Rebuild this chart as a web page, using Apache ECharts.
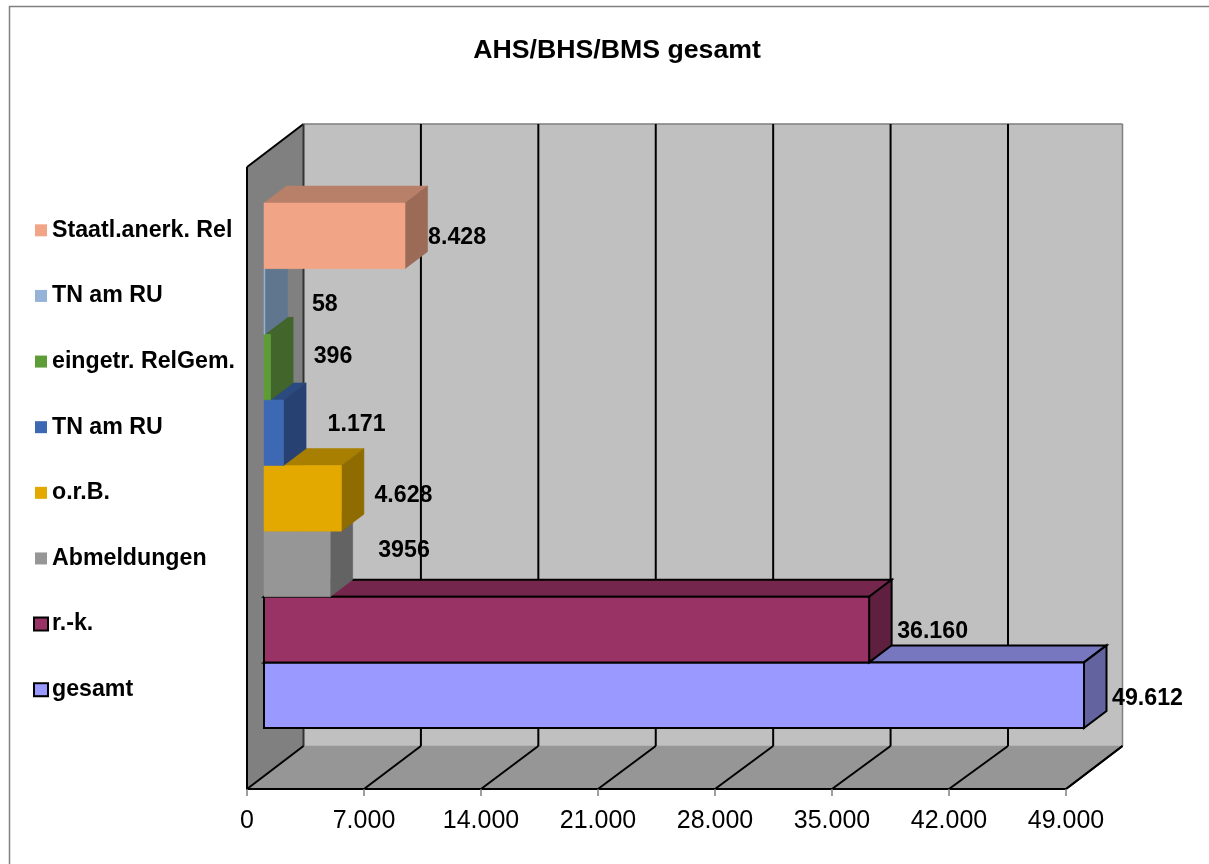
<!DOCTYPE html>
<html><head><meta charset="utf-8">
<style>html,body{margin:0;padding:0;background:#fff}#c{width:1209px;height:864px}</style>
<script src="https://cdn.jsdelivr.net/npm/echarts@6/dist/echarts.min.js"></script>
</head><body><div id="c"></div>
<script>
var categories = ['gesamt','r.-k.','Abmeldungen','o.r.B.','TN am RU','eingetr. RelGem.','TN am RU','Staatl.anerk. Rel'];
var values = [49612,36160,3956,4628,1171,396,58,8428];
var valueLabels = ['49.612','36.160','3956','4.628','1.171','396','58','8.428'];
var tickValues = [0,7000,14000,21000,28000,35000,42000,49000];
var frontColors = ['#9999FF','#993366','#969696','#E3A900','#3C68B4','#5E9C38','#95B3D7','#F2A586'];
var topColors = ['#7777BF','#75264D','#6E6E6E','#A87F00','#2B4A80','#41652B','#60768F','#B88068'];
var sideColors = ['#6363A0','#5F2040','#636363','#8F6C00','#274272','#41652B','#60768F','#9B6B57'];
var outlined = [true,true,false,false,false,false,false,false];
var labelOffsets = [[28,3],[28,2],[48,-13],[33,-3],[44,-8],[43,-10],[47,3],[23,2]];

var AXIS_MAX = 49000, WALL_DX = 56.5, WALL_DY = -43, BAR_DX = 22.5, BAR_DY = -17;
var FONT = '"Liberation Sans", Arial, sans-serif';

function poly(pts, fill, stroke, lw){
  return {type:'polygon', shape:{points:pts}, style:{fill:fill, stroke:stroke||fill, lineWidth:stroke?(lw||2):0.5}};
}
function line(a,b,color,lw){
  return {type:'line', shape:{x1:a[0],y1:a[1],x2:b[0],y2:b[1]}, style:{stroke:color,lineWidth:lw||1.5}};
}
function renderWalls(params, api){
  var o = api.coord([0,0]), e = api.coord([AXIS_MAX,0]), t = api.coord([0,1]);
  var dx = WALL_DX, dy = WALL_DY;
  return {type:'group', children:[
    poly([[o[0]+dx,t[1]+dy],[e[0]+dx,t[1]+dy],[e[0]+dx,o[1]+dy],[o[0]+dx,o[1]+dy]],'#C0C0C0'),
    poly([[o[0],o[1]],[e[0],o[1]],[e[0]+dx,o[1]+dy],[o[0]+dx,o[1]+dy]],'#969696'),
    poly([[o[0],t[1]],[o[0]+dx,t[1]+dy],[o[0]+dx,o[1]+dy],[o[0],o[1]]],'#808080'),
    line([o[0]+dx,t[1]+dy],[e[0]+dx,t[1]+dy],'#808080',1.5),
    line([e[0]+dx,t[1]+dy],[e[0]+dx,o[1]+dy],'#808080',1.5),
    line([o[0],t[1]],[o[0],o[1]],'#000',2),
    line([o[0],t[1]],[o[0]+dx,t[1]+dy],'#000',2),
    line([o[0]+dx,t[1]+dy],[o[0]+dx,o[1]+dy],'#333',2),
    line([e[0],o[1]],[e[0]+dx,o[1]+dy],'#000',2)
  ]};
}
function renderGrid(params, api){
  var v = api.value(0), p = api.coord([v,0]), t = api.coord([v,1]);
  var inner = v > 0 && v < AXIS_MAX;
  var dx = WALL_DX + (inner ? 2.5 * v / 42000 : 0);
  var kids = [line([p[0],p[1]],[p[0]+dx,p[1]+WALL_DY],'#000',2)];
  if (inner) kids.push(line([p[0]+dx,t[1]+WALL_DY],[p[0]+dx,p[1]+WALL_DY],'#000',2));
  return {type:'group', children:kids};
}
function renderBar(params, api){
  var i = api.value(0);
  var v = Math.min(api.value(1), AXIS_MAX);
  var c0 = api.coord([0,i]), c1 = api.coord([v,i]);
  var h = api.size([0,1])[1];
  var x0 = c0[0], x1 = c1[0], y0 = c0[1]-h/2, y1 = c0[1]+h/2;
  var s = outlined[i] ? '#000' : null;
  return {type:'group', children:[
    poly([[x0,y0],[x1,y0],[x1+BAR_DX,y0+BAR_DY],[x0+BAR_DX,y0+BAR_DY]],topColors[i],s),
    poly([[x1,y0],[x1+BAR_DX,y0+BAR_DY],[x1+BAR_DX,y1+BAR_DY],[x1,y1]],sideColors[i],s),
    poly([[x0,y0],[x1,y0],[x1,y1],[x0,y1]],frontColors[i],s)
  ]};
}
function renderLabel(params, api){
  var i = api.value(0);
  var v = Math.min(api.value(1), AXIS_MAX);
  var p = api.coord([v,i]);
  return {type:'text', x:p[0]+labelOffsets[i][0], y:p[1]+labelOffsets[i][1],
    style:{text:valueLabels[i], fill:'#000', font:'bold 23.2px '+FONT, textAlign:'left', textVerticalAlign:'middle'}};
}
var rich = {t:{fontFamily:FONT,fontWeight:'bold',fontSize:23.2,color:'#000',padding:[0,0,0,5]}};
frontColors.forEach(function(c,i){
  rich['m'+i] = {width:12,height:outlined[i]?11:12,backgroundColor:c,
    borderColor:outlined[i]?'#000':c,borderWidth:outlined[i]?2:0};
});
var barData = values.map(function(v,i){return [i,v];});

var chart = echarts.init(document.getElementById('c'),null,{renderer:'canvas'});
chart.setOption({
  animation:false,
  backgroundColor:'#fff',
  title:{text:'AHS/BHS/BMS gesamt',left:612,top:32,textAlign:'center',
    textStyle:{fontFamily:FONT,fontWeight:'bold',fontSize:26.7,color:'#000'}},
  graphic:[{type:'rect',z:-1,shape:{x:9.5,y:6.5,width:1300,height:900},style:{fill:'#fff',stroke:'#808080',lineWidth:1.5}}],
  grid:[
    {left:247,top:167,width:819,height:622},
    {left:264,top:203,width:820,height:525}
  ],
  xAxis:[
    {gridIndex:0,type:'value',min:0,max:AXIS_MAX,interval:7000,z:5,
     axisLine:{show:true,lineStyle:{color:'#000',width:2}},
     axisTick:{show:true,length:7,lineStyle:{color:'#808080',width:1.5}},
     splitLine:{show:false},
     axisLabel:{margin:20,fontFamily:FONT,fontSize:25,color:'#000',
       formatter:function(v){return v===0?'0':(v/1000)+'.000';}}},
    {gridIndex:1,type:'value',min:0,max:AXIS_MAX,interval:7000,show:false,splitLine:{show:false}}
  ],
  yAxis:[
    {gridIndex:0,type:'value',min:0,max:1,show:false,splitLine:{show:false}},
    {gridIndex:1,type:'category',data:categories,
     axisLine:{show:false},axisTick:{show:false},splitLine:{show:false},
     axisLabel:{show:true,interval:0,align:'left',margin:229,padding:[0,0,11,0],
       formatter:function(v,i){return '{m'+i+'|}{t|'+v+'}';},rich:rich}}
  ],
  series:[
    {name:'walls',type:'custom',xAxisIndex:0,yAxisIndex:0,z:1,silent:true,clip:false,renderItem:renderWalls,data:[[0]]},
    {name:'gridlines',type:'custom',xAxisIndex:0,yAxisIndex:0,z:2,silent:true,clip:false,renderItem:renderGrid,encode:{x:0},data:tickValues.map(function(v){return [v];})},
    {name:'bars',type:'custom',xAxisIndex:1,yAxisIndex:1,z:3,clip:false,renderItem:renderBar,encode:{x:1,y:0},data:barData},
    {name:'labels',type:'custom',xAxisIndex:1,yAxisIndex:1,z:4,clip:false,renderItem:renderLabel,encode:{x:1,y:0},data:barData}
  ]
});
</script></body></html>
